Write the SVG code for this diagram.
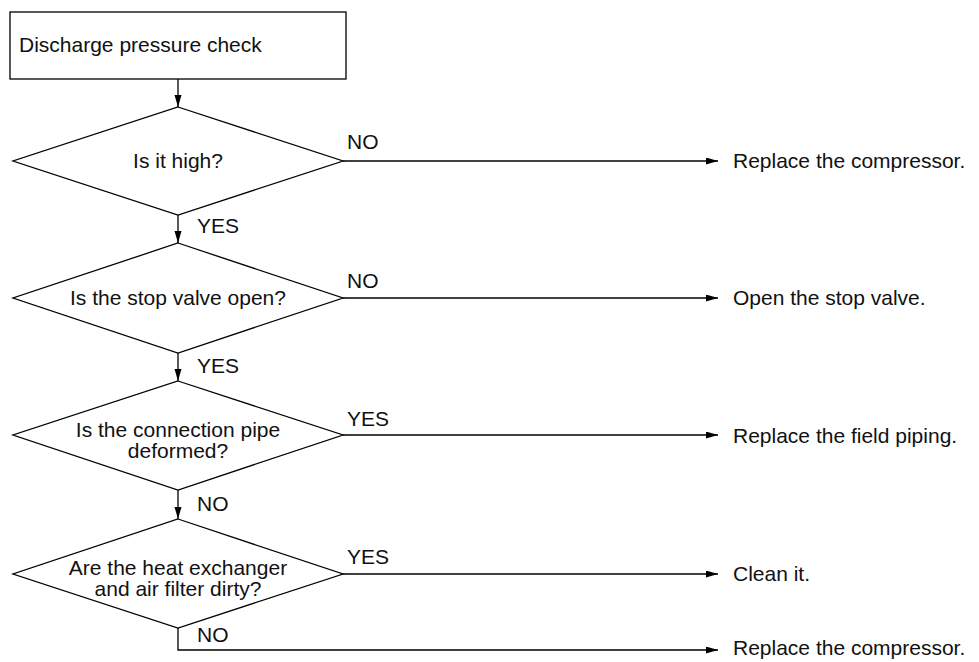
<svg xmlns="http://www.w3.org/2000/svg" width="979" height="662" viewBox="0 0 979 662">
<style>
  .s { fill: #ffffff; stroke: #000000; stroke-width: 1.3; }
  .c { fill: none; stroke: #000000; stroke-width: 1.3; }
  text { font-family: "Liberation Sans", Arial, sans-serif; font-size: 21px; fill: #111111; }
  .m { text-anchor: middle; }
</style>
<defs>
  <marker id="ah" markerUnits="userSpaceOnUse" markerWidth="13" markerHeight="8" refX="12" refY="3.5" orient="auto">
    <path d="M0,0 L12,3.5 L0,7 z" fill="#000000"/>
  </marker>
</defs>
<rect width="979" height="662" fill="#ffffff"/>
<g id="connectors">
  <line class="c" x1="178" y1="79" x2="178" y2="107" marker-end="url(#ah)"/>
  <line class="c" x1="178" y1="215" x2="178" y2="243" marker-end="url(#ah)"/>
  <line class="c" x1="178" y1="353" x2="178" y2="381" marker-end="url(#ah)"/>
  <line class="c" x1="178" y1="490" x2="178" y2="519" marker-end="url(#ah)"/>
  <line class="c" x1="343" y1="161" x2="718" y2="161" marker-end="url(#ah)"/>
  <line class="c" x1="343" y1="298" x2="718" y2="298" marker-end="url(#ah)"/>
  <line class="c" x1="343" y1="435" x2="718" y2="435" marker-end="url(#ah)"/>
  <line class="c" x1="343" y1="574" x2="718" y2="574" marker-end="url(#ah)"/>
  <polyline class="c" points="178,628 178,650 718,650" marker-end="url(#ah)"/>
  <text x="197" y="233">YES</text>
  <text x="197" y="373">YES</text>
  <text x="197" y="511">NO</text>
  <text x="197" y="642">NO</text>
  <text x="347" y="149">NO</text>
  <text x="347" y="288">NO</text>
  <text x="347" y="426">YES</text>
  <text x="347" y="564">YES</text>
</g>
<g id="start">
  <rect class="s" x="10" y="12" width="336" height="67"/>
  <text x="19" y="52">Discharge pressure check</text>
</g>
<g id="q1">
  <polygon class="s" points="178,107 343,161 178,215 13,161"/>
  <text class="m" x="178" y="168">Is it high?</text>
</g>
<g id="q2">
  <polygon class="s" points="178,243 343,298 178,353 13,298"/>
  <text class="m" x="178" y="305">Is the stop valve open?</text>
</g>
<g id="q3">
  <polygon class="s" points="178,381 343,435 178,490 13,435"/>
  <text class="m" x="178" y="437">Is the connection pipe</text>
  <text class="m" x="178" y="458">deformed?</text>
</g>
<g id="q4">
  <polygon class="s" points="178,519 343,574 178,628 13,574"/>
  <text class="m" x="178" y="575">Are the heat exchanger</text>
  <text class="m" x="178" y="596">and air filter dirty?</text>
</g>
<g id="r1"><text x="733" y="168">Replace the compressor.</text></g>
<g id="r2"><text x="733" y="305">Open the stop valve.</text></g>
<g id="r3"><text x="733" y="443">Replace the field piping.</text></g>
<g id="r4"><text x="733" y="581">Clean it.</text></g>
<g id="r5"><text x="733" y="655">Replace the compressor.</text></g>
</svg>
